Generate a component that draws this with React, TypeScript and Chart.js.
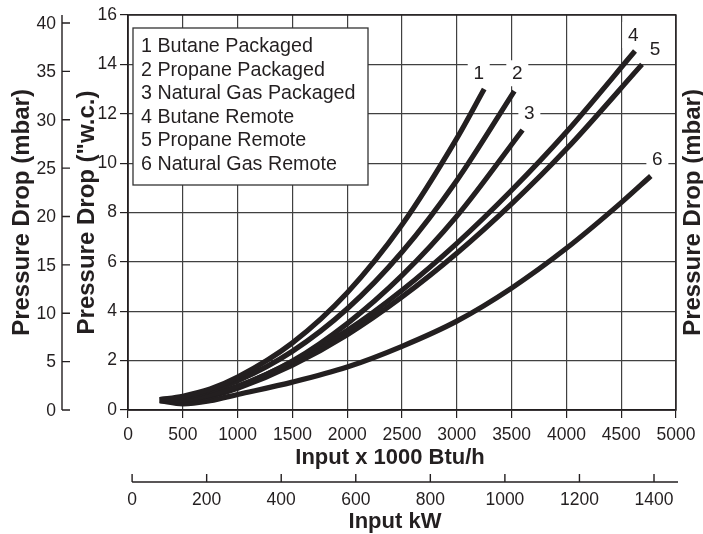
import React, { useEffect, useRef } from "react";
import { Chart, registerables } from "chart.js";

Chart.register(...registerables);

const FONT = '"Liberation Sans", Arial, Helvetica, sans-serif';
const INK = "#231f20";
const GRID = "#404040";

// ---- data (Input x 1000 Btu/h  vs  Pressure Drop "w.c.) ----
const seriesNames = [
  "Butane Packaged",
  "Propane Packaged",
  "Natural Gas Packaged",
  "Butane Remote",
  "Propane Remote",
  "Natural Gas Remote",
];

const curve1Btu = [290, 500, 750, 1000, 1500, 2000, 2500, 3000, 3250];
const curve1Drop = [0.42, 0.56, 0.85, 1.33, 2.72, 4.75, 7.5, 11.0, 13.0];

const curve2Btu = [290, 500, 750, 1000, 1500, 2000, 2500, 3000, 3525];
const curve2Drop = [0.42, 0.5, 0.78, 1.18, 2.38, 4.1, 6.4, 9.3, 12.92];

const curve3Btu = [290, 500, 750, 1000, 1500, 2000, 2500, 3000, 3600];
const curve3Drop = [0.4, 0.42, 0.62, 0.95, 1.98, 3.5, 5.45, 7.85, 11.34];

const curve4Btu = [290, 500, 750, 1000, 1500, 2000, 2500, 3000, 3500, 4000, 4626];
const curve4Drop = [0.4, 0.38, 0.6, 0.95, 1.95, 3.22, 4.85, 6.75, 8.9, 11.26, 14.54];

const curve5Btu = [290, 500, 750, 1000, 1500, 2000, 2500, 3000, 3500, 4000, 4690];
const curve5Drop = [0.38, 0.33, 0.55, 0.88, 1.82, 3.05, 4.58, 6.35, 8.35, 10.57, 14.0];

const curve6Btu = [290, 500, 750, 1000, 1500, 2000, 2500, 3000, 3500, 4000, 4500, 4770];
const curve6Drop = [0.38, 0.25, 0.38, 0.63, 1.13, 1.74, 2.58, 3.6, 4.94, 6.55, 8.4, 9.48];

// curve number tags (data coordinates)
const tagBtu = [3200, 3552, 3662, 4611, 4808, 4830];
const tagDrop = [13.66, 13.64, 12.06, 15.19, 14.65, 10.19];

// axis ticks / ranges
const btuMin = 0;
const btuMax = 5000;
const btuStep = 500;
const wcMin = 0;
const wcMax = 16;
const wcStep = 2;
const mbarTicks = [0, 5, 10, 15, 20, 25, 30, 35, 40];
const mbarMax = 40.83;
const kwTicks = [0, 200, 400, 600, 800, 1000, 1200, 1400];
const kwMin = -11;
const kwMax = 1459;

const xTitle = "Input x 1000 Btu/h";
const kwTitle = "Input kW";
const wcTitle = 'Pressure Drop ("w.c.)';
const mbarTitle = "Pressure Drop (mbar)";

const overlay = {
  id: "overlay",
  beforeDatasetsDraw(chart: any) {
    const { ctx, chartArea: ca } = chart;
    const x = chart.scales.x;
    const y = chart.scales.y;
    ctx.save();
    // frame
    ctx.strokeStyle = INK;
    ctx.lineWidth = 1.4;
    ctx.strokeRect(ca.left, ca.top, ca.right - ca.left, ca.bottom - ca.top);

    // legend box
    const bx = ca.left + 5;
    const by = ca.top + 13;
    const bw = 235;
    const bh = 157;
    ctx.fillStyle = "#fff";
    ctx.fillRect(bx, by, bw, bh);
    ctx.strokeStyle = "#333";
    ctx.lineWidth = 1.3;
    ctx.strokeRect(bx, by, bw, bh);
    ctx.fillStyle = INK;
    ctx.font = `19.7px ${FONT}`;
    ctx.textAlign = "left";
    ctx.textBaseline = "middle";
    chart.data.datasets.forEach((ds: any, i: number) => {
      ctx.fillText(ds.label, bx + 8, by + 18.5 + i * 23.6);
    });

    // curve tags
    ctx.font = `19px ${FONT}`;
    ctx.textAlign = "center";
    tagBtu.forEach((b, i) => {
      const px = x.getPixelForValue(b);
      const py = y.getPixelForValue(tagDrop[i]);
      ctx.fillStyle = "#fff";
      ctx.fillRect(px - 11, py - 13, 22, 26);
      ctx.fillStyle = INK;
      ctx.fillText(String(i + 1), px, py + 1);
    });
    ctx.restore();
  },
  afterDraw(chart: any) {
    const { ctx, chartArea: ca } = chart;
    const y2 = chart.scales.y2;
    const x2 = chart.scales.x2;
    const midY = (ca.top + ca.bottom) / 2;
    ctx.save();
    ctx.strokeStyle = INK;
    ctx.fillStyle = INK;
    ctx.lineWidth = 1.4;

    // mbar axis (left, outer)
    const ax = 62;
    ctx.beginPath();
    ctx.moveTo(ax, ca.top);
    ctx.lineTo(ax, ca.bottom);
    mbarTicks.forEach((v) => {
      const py = y2.getPixelForValue(v);
      ctx.moveTo(ax, py);
      ctx.lineTo(ax + 8, py);
    });
    ctx.stroke();
    ctx.font = `17.5px ${FONT}`;
    ctx.textAlign = "right";
    ctx.textBaseline = "middle";
    mbarTicks.forEach((v) => {
      ctx.fillText(String(v), ax - 6, y2.getPixelForValue(v) + 1);
    });

    // kW axis (bottom, outer)
    const ly = 482;
    ctx.beginPath();
    ctx.moveTo(x2.getPixelForValue(0), ly);
    ctx.lineTo(ca.right + 2, ly);
    kwTicks.forEach((v) => {
      const px = x2.getPixelForValue(v);
      ctx.moveTo(px, ly);
      ctx.lineTo(px, ly - 8);
    });
    ctx.stroke();
    ctx.textAlign = "center";
    kwTicks.forEach((v) => {
      ctx.fillText(String(v), x2.getPixelForValue(v), ly + 18);
    });

    // titles
    ctx.font = `bold 22px ${FONT}`;
    ctx.textAlign = "center";
    ctx.fillText(xTitle, (ca.left + ca.right) / 2 - 12, 458);
    ctx.fillText(kwTitle, (ca.left + ca.right) / 2 - 7, 522);

    ctx.font = `bold 24px ${FONT}`;
    const rot = (cx: number, text: string) => {
      ctx.save();
      ctx.translate(cx, midY);
      ctx.rotate(-Math.PI / 2);
      ctx.fillText(text, 0, 0);
      ctx.restore();
    };
    rot(87, wcTitle);
    rot(22, mbarTitle);
    rot(693, mbarTitle);
    ctx.restore();
  },
};

export default function App() {
  const ref = useRef<HTMLCanvasElement>(null);
  useEffect(() => {
    const canvas = ref.current!;
    const curves = [
      [curve1Btu, curve1Drop],
      [curve2Btu, curve2Drop],
      [curve3Btu, curve3Drop],
      [curve4Btu, curve4Drop],
      [curve5Btu, curve5Drop],
      [curve6Btu, curve6Drop],
    ];
    const datasets = curves.map(([xs, ys], i) => ({
      label: `${i + 1} ${seriesNames[i]}`,
      data: xs.map((v, j) => ({ x: v, y: ys[j] })),
      borderColor: INK,
      backgroundColor: INK,
      borderWidth: 5.2,
      borderCapStyle: "butt" as const,
      pointRadius: 0,
      cubicInterpolationMode: "monotone" as const,
      fill: false,
      xAxisID: "x",
      yAxisID: "y",
    }));
    const tickFont = { family: FONT, size: 17.5 };
    const plain = (v: any) => String(v);
    const chart = new Chart(canvas, {
      type: "line",
      data: { datasets },
      options: {
        responsive: false,
        animation: false,
        events: [],
        layout: { padding: { left: 68, right: 27, top: 15, bottom: 64 } },
        plugins: { legend: { display: false }, tooltip: { enabled: false } },
        scales: {
          x: {
            type: "linear",
            position: "bottom",
            min: btuMin,
            max: btuMax,
            afterFit: (s: any) => {
              s.height = 60;
            },
            grid: { color: GRID, lineWidth: 1.2, tickLength: 8, tickColor: INK },
            border: { color: INK, width: 1.4 },
            ticks: {
              stepSize: btuStep,
              font: tickFont,
              color: INK,
              padding: 7,
              maxRotation: 0,
              autoSkip: false,
              callback: plain,
            },
          },
          y: {
            type: "linear",
            position: "left",
            min: wcMin,
            max: wcMax,
            afterFit: (s: any) => {
              s.width = 60;
            },
            grid: { color: GRID, lineWidth: 1.2, tickLength: 8, tickColor: INK },
            border: { color: INK, width: 1.4 },
            ticks: { stepSize: wcStep, font: tickFont, color: INK, padding: 3, callback: plain },
          },
          x2: { type: "linear", display: false, position: "bottom", min: kwMin, max: kwMax },
          y2: { type: "linear", display: false, position: "left", min: 0, max: mbarMax },
        },
      } as any,
      plugins: [overlay],
    });
    return () => chart.destroy();
  }, []);
  return (
    <div style={{ position: "fixed", left: 0, top: 0, width: 703, height: 534, background: "#fff" }}>
      <canvas ref={ref} width={703} height={534} style={{ width: 703, height: 534, display: "block" }} />
    </div>
  );
}
